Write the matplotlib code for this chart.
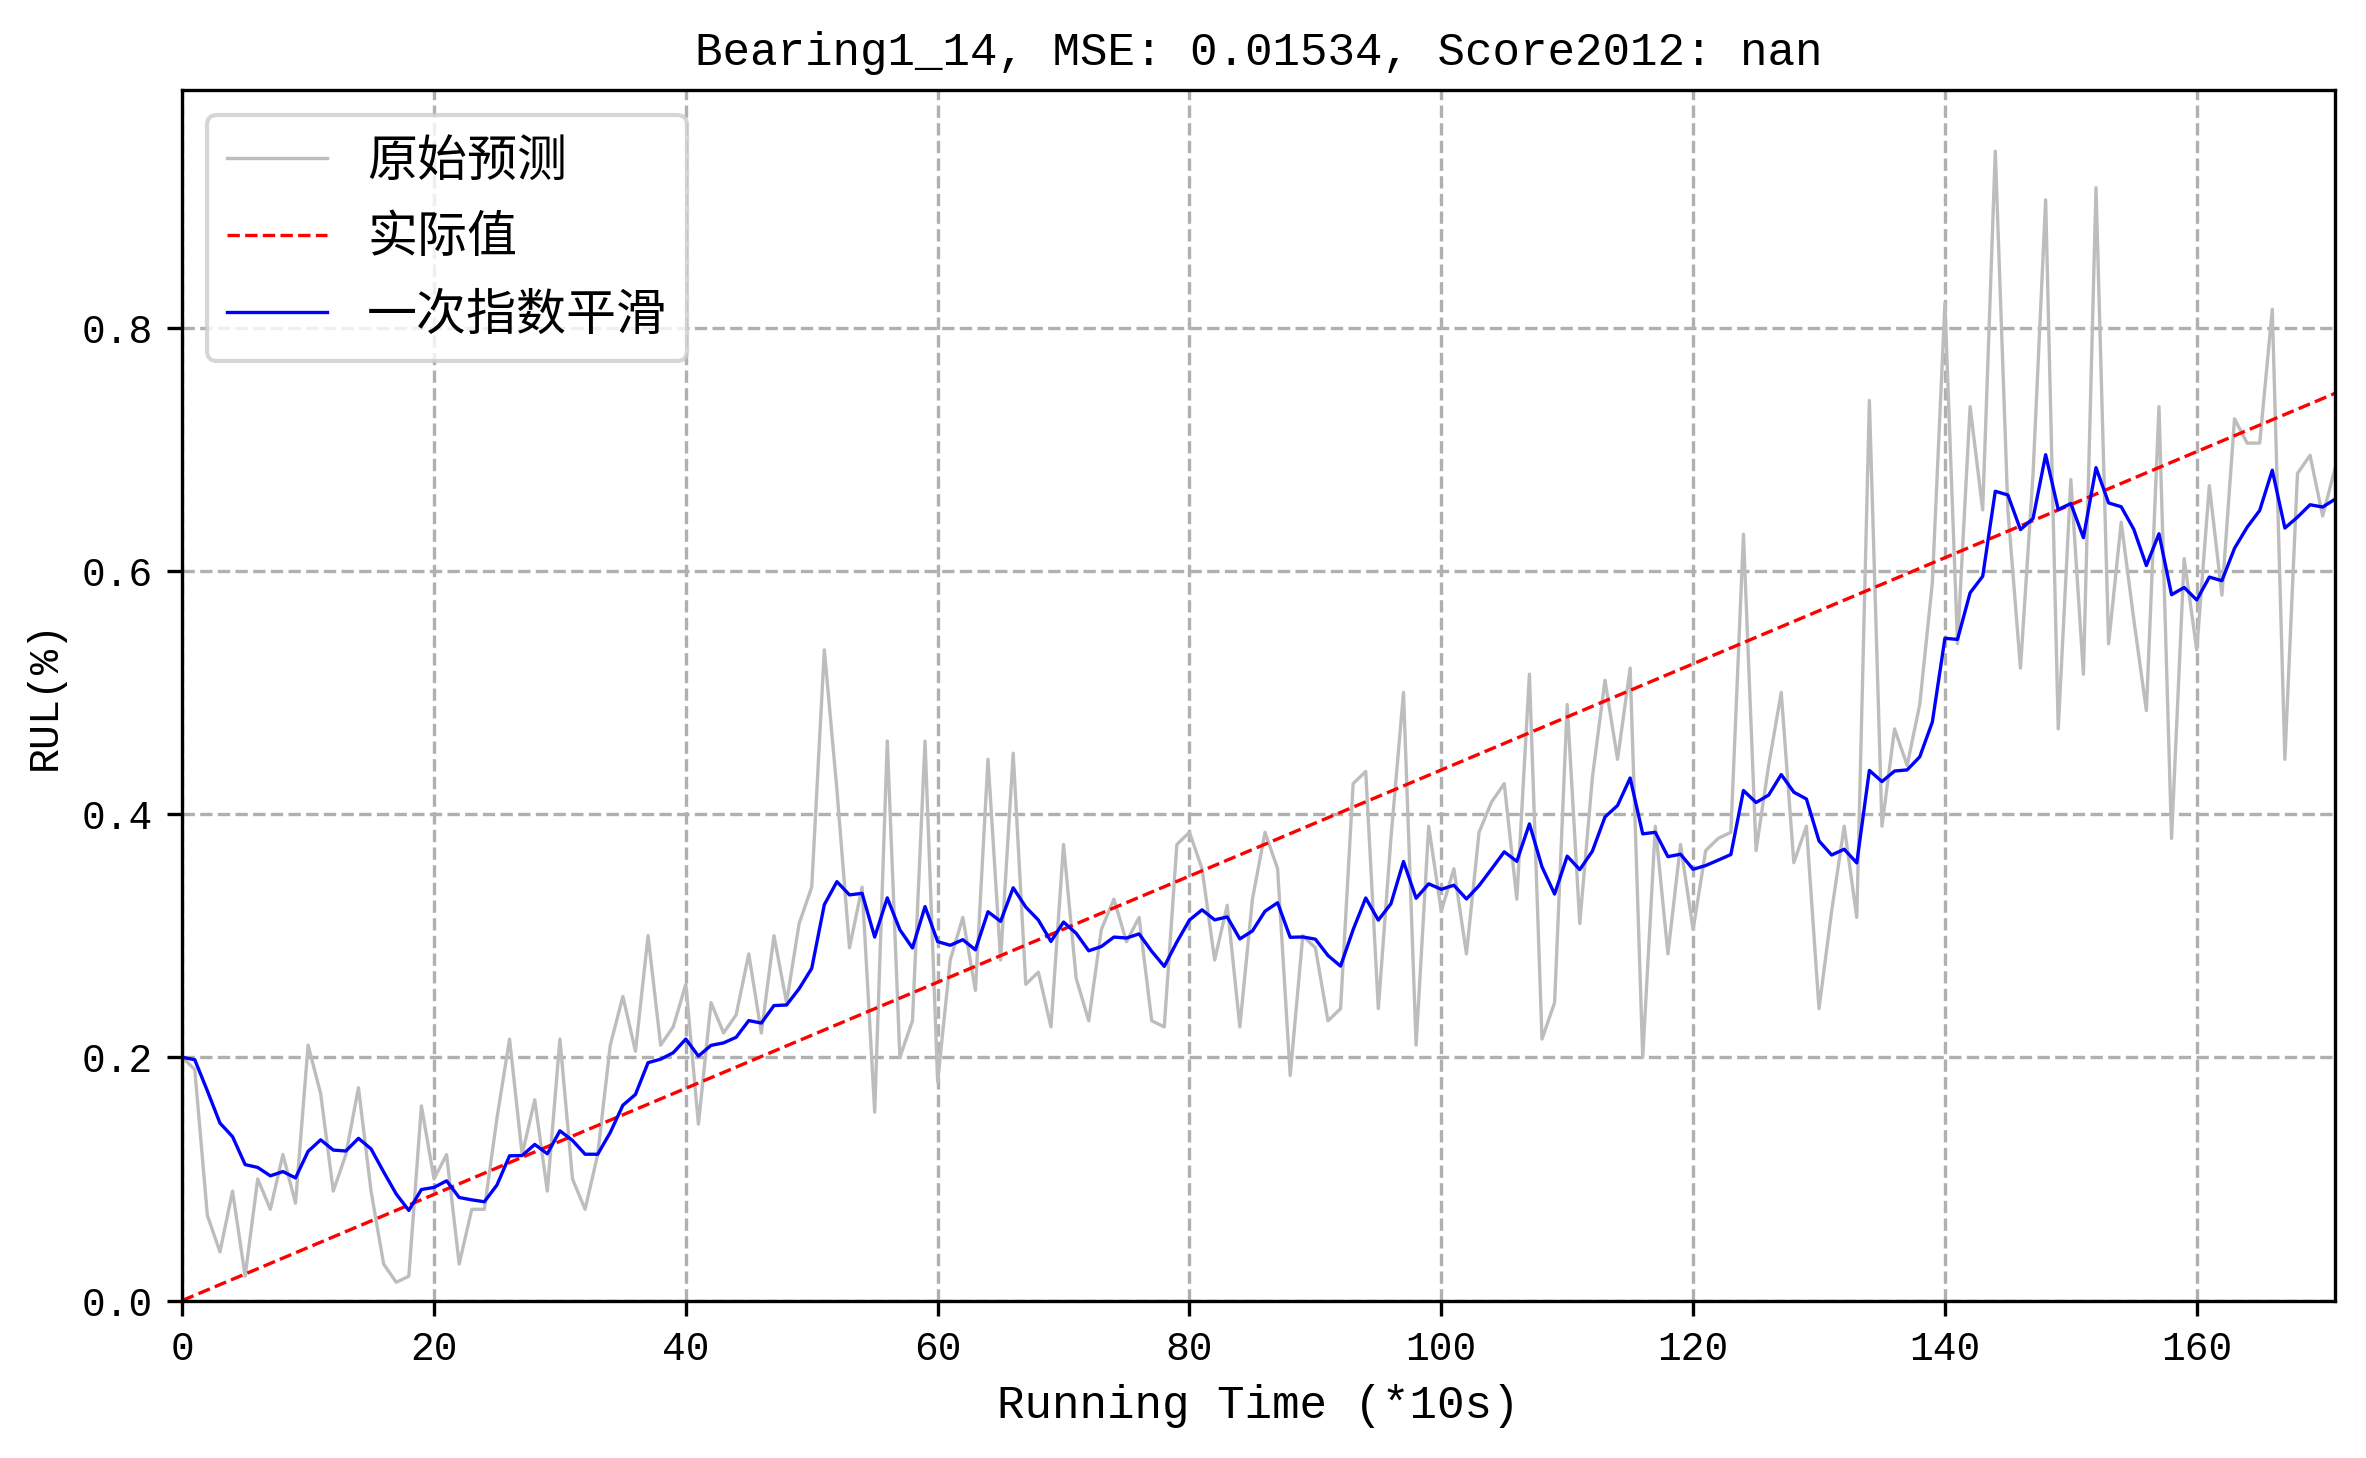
import numpy as np
import matplotlib
matplotlib.use("Agg")
import matplotlib.pyplot as plt

plt.rcParams['font.family'] = ['Liberation Mono', 'Noto Sans CJK SC', 'DejaVu Sans']

title = "Bearing1_14, MSE: 0.01534, Score2012: nan"
raw_pred = [0.20,0.19,0.07,0.04,0.09,0.02,0.10,0.075,0.12,0.08,
            0.21,0.17,0.09,0.12,0.175,0.09,0.03,0.015,0.02,0.16,
            0.10,0.12,0.03,0.075,0.075,0.15,0.215,0.12,0.165,0.09,
            0.215,0.10,0.075,0.12,0.21,0.25,0.205,0.30,0.21,0.225,
            0.26,0.145,0.245,0.22,0.235,0.285,0.22,0.30,0.245,0.31,
            0.34,0.535,0.42,0.29,0.34,0.155,0.46,0.20,0.23,0.46,
            0.18,0.28,0.315,0.255,0.445,0.28,0.45,0.26,0.27,0.225,
            0.375,0.265,0.23,0.305,0.33,0.295,0.315,0.23,0.225,0.375,
            0.385,0.355,0.28,0.325,0.225,0.33,0.385,0.355,0.185,0.30,
            0.29,0.23,0.24,0.425,0.435,0.24,0.38,0.50,0.21,0.39,
            0.32,0.355,0.285,0.385,0.41,0.425,0.33,0.515,0.215,0.245,
            0.49,0.31,0.43,0.51,0.445,0.52,0.20,0.39,0.285,0.375,
            0.305,0.37,0.38,0.385,0.63,0.37,0.44,0.50,0.36,0.39,
            0.24,0.32,0.39,0.315,0.74,0.39,0.47,0.44,0.49,0.59,
            0.82,0.54,0.735,0.65,0.945,0.65,0.52,0.68,0.905,0.47,
            0.675,0.515,0.915,0.54,0.64,0.56,0.485,0.735,0.38,0.61,
            0.535,0.67,0.58,0.725,0.705,0.705,0.815,0.445,0.68,0.695,
            0.645,0.685]
actual_x = [0, 171]
actual_y = [0.0, 0.746]
alpha = 0.2

x = np.arange(len(raw_pred))
smooth = [raw_pred[0]]
for v in raw_pred[1:]:
    smooth.append(smooth[-1] + alpha * (v - smooth[-1]))

fig = plt.figure(figsize=(2366/300, 1458/300), dpi=300)
ax = fig.add_axes([0.077, 0.108, 0.910, 0.830])
ax.plot(x, raw_pred, color='#bdbdbd', lw=0.8, label='原始预测')
ax.plot(actual_x, actual_y, color='red', ls='--', lw=0.8, label='实际值')
ax.plot(x, smooth, color='blue', lw=0.8, label='一次指数平滑')
ax.set_xlim(0, 171)
ax.set_ylim(0, 0.995)
ax.set_yticks([0, 0.2, 0.4, 0.6, 0.8])
ax.set_xticks(range(0, 161, 20))
ax.tick_params(labelsize=9.5)
ax.grid(True, ls='--', color='#b0b0b0', lw=0.8)
ax.set_title(title, fontsize=11)
ax.set_xlabel('Running Time (*10s)', fontsize=11)
ax.set_ylabel('RUL(%)', fontsize=10)
ax.legend(loc='upper left', fontsize=12, prop={'family': ['Noto Sans CJK SC'], 'size': 12})
fig.savefig('out.png', dpi=300)
